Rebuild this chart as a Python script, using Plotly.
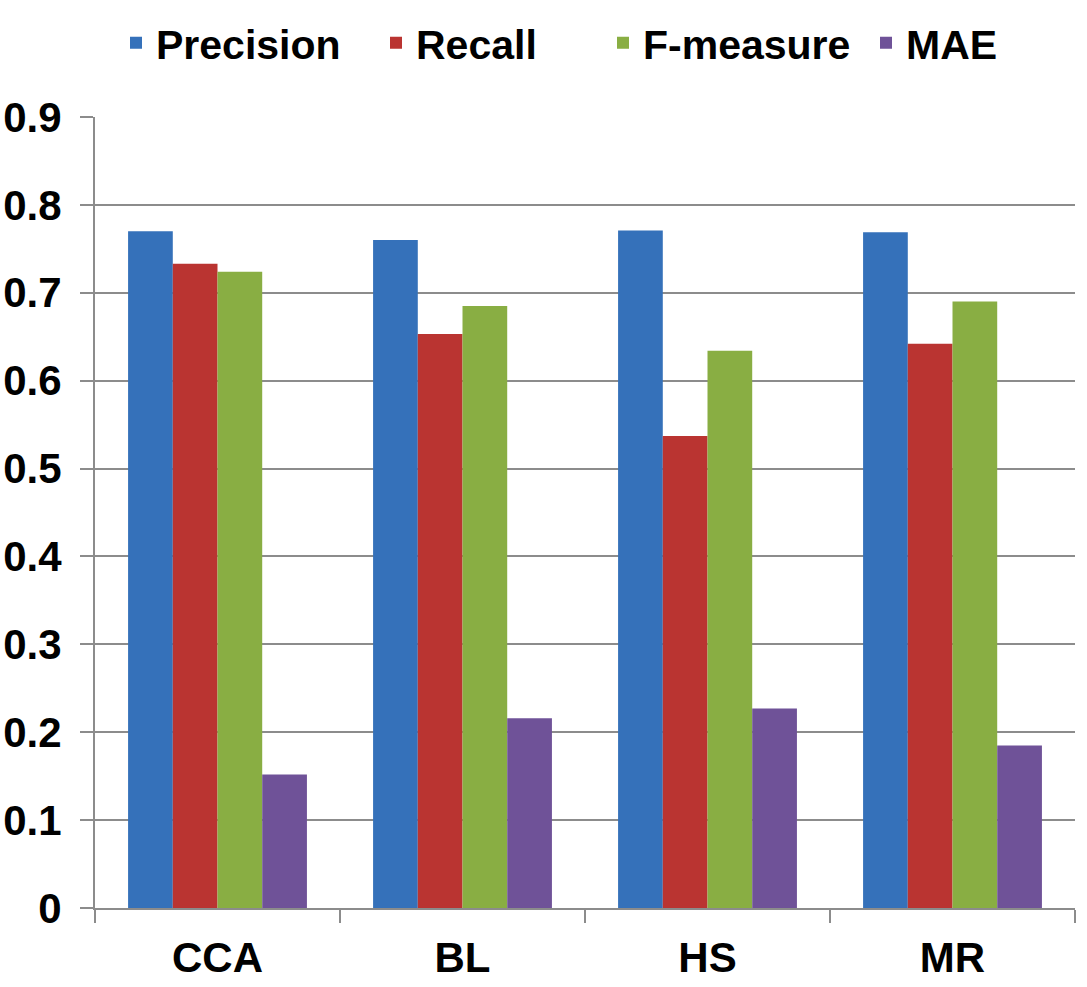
import plotly.graph_objects as go

categories = ["CCA", "BL", "HS", "MR"]
series_names = ["Precision", "Recall", "F-measure", "MAE"]
precision = [0.770, 0.760, 0.771, 0.769]
recall = [0.733, 0.653, 0.537, 0.642]
f_measure = [0.724, 0.685, 0.634, 0.690]
mae = [0.152, 0.216, 0.227, 0.185]
y_ticks = [0, 0.1, 0.2, 0.3, 0.4, 0.5, 0.6, 0.7, 0.8, 0.9]
y_tick_labels = ["0", "0.1", "0.2", "0.3", "0.4", "0.5", "0.6", "0.7", "0.8", "0.9"]

colors = ["#3571BA", "#BA3431", "#89AE43", "#6F5298"]
values = [precision, recall, f_measure, mae]

FONT = "Liberation Sans, Arial, sans-serif"
W, H = 1087, 987
legend_ids = ["legend", "legend2", "legend3", "legend4"]
legend_x_px = [116, 376, 603, 866]

fig = go.Figure()
for name, vals, col, lid in zip(series_names, values, colors, legend_ids):
    fig.add_trace(go.Bar(
        x=categories, y=vals, name=name, legend=lid,
        marker=dict(color=col, line=dict(width=0)),
    ))

legend_layout = {}
for lid, px in zip(legend_ids, legend_x_px):
    legend_layout[lid] = dict(
        orientation="h", xref="container", yref="container",
        x=px / W, xanchor="left", y=(H - 43) / H, yanchor="middle",
        font=dict(family=FONT, size=41, color="black", weight="bold"),
        itemwidth=30, bgcolor="rgba(0,0,0,0)",
    )

fig.update_layout(
    width=W, height=H,
    barmode="group", bargap=0.27, bargroupgap=0,
    plot_bgcolor="white", paper_bgcolor="white",
    margin=dict(l=95, r=12, t=117, b=79, autoexpand=False),
    font=dict(family=FONT, size=40, color="black", weight="bold"),
    showlegend=True,
    **legend_layout,
)
fig.update_xaxes(
    showline=True, linecolor="#8c8c8c", linewidth=2,
    ticks="outside", tickson="boundaries", ticklen=13, tickwidth=2, tickcolor="#8c8c8c",
    showgrid=False, tickfont=dict(family=FONT, size=42, color="black", weight="bold"),
    ticklabelstandoff=12, automargin=False,
)
fig.update_yaxes(
    range=[0, 0.9], tickvals=y_ticks, ticktext=y_tick_labels,
    showline=True, linecolor="#8c8c8c", linewidth=2,
    ticks="outside", ticklen=13, tickwidth=2, tickcolor="#8c8c8c",
    showgrid=True, gridcolor="#8c8c8c", gridwidth=2, zeroline=False,
    tickfont=dict(family=FONT, size=42, color="black", weight="bold"),
    ticklabelstandoff=10, automargin=False,
)

fig.write_html("out.html")
